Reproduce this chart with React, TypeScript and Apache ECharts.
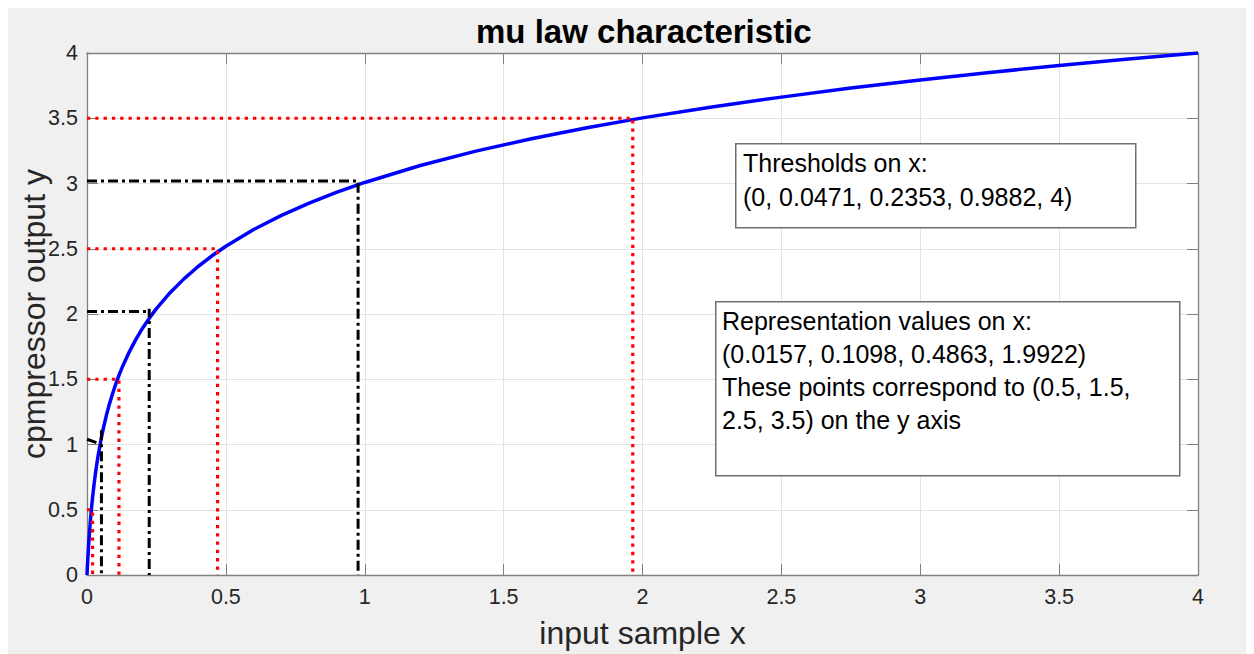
import React, { useEffect, useRef } from "react";
import * as echarts from "echarts";

const curveX = [0, 0.001, 0.002, 0.004, 0.006, 0.008, 0.01, 0.0125, 0.015, 0.0175, 0.02, 0.025, 0.03, 0.035, 0.04, 0.05, 0.06, 0.07, 0.08, 0.09, 0.1, 0.115, 0.13, 0.15, 0.175, 0.2, 0.225, 0.25, 0.3, 0.35, 0.4, 0.45, 0.5, 0.6, 0.7, 0.8, 0.9, 1.0, 1.2, 1.4, 1.6, 1.8, 2.0, 2.25, 2.5, 2.75, 3.0, 3.25, 3.5, 3.75, 4.0];
const curveY = [0, 0.045, 0.087, 0.164, 0.234, 0.297, 0.356, 0.423, 0.484, 0.541, 0.593, 0.688, 0.771, 0.846, 0.914, 1.033, 1.135, 1.225, 1.304, 1.376, 1.441, 1.529, 1.608, 1.7, 1.802, 1.891, 1.97, 2.041, 2.165, 2.271, 2.364, 2.446, 2.519, 2.647, 2.756, 2.85, 2.934, 3.008, 3.138, 3.248, 3.343, 3.427, 3.503, 3.587, 3.662, 3.731, 3.793, 3.851, 3.904, 3.954, 4.0];

// black dash-dot threshold guides: [x, y] pairs
const blackPaths = [
  [[0, 1.04], [0.052, 1.0]],
  [[0.052, 1.11], [0.052, 0]],
  [[0, 2.02], [0.224, 2.02], [0.224, 2.04], [0.224, 0]],
  [[0, 3.02], [0.976, 3.02], [0.976, 0]],
];

// red dotted representation-value guides
const redPaths = [
  [[0, 0.5], [0.02, 0.5], [0.02, 0]],
  [[0, 1.5], [0.115, 1.5], [0.115, 0]],
  [[0, 2.5], [0.47, 2.5], [0.47, 0]],
  [[0, 3.5], [1.965, 3.5], [1.965, 0]],
];

const titleText = "mu law characteristic";
const xName = "input sample x";
const yName = "cpmpressor output y";
const box1Lines = ["Thresholds on x:", "(0, 0.0471, 0.2353, 0.9882, 4)"];
const box2Lines = [
  "Representation values on x:",
  "(0.0157, 0.1098, 0.4863, 1.9922)",
  "These points correspond to (0.5, 1.5,",
  "2.5, 3.5) on the y axis",
];

const FONT = "Liberation Sans, Arial, Helvetica, sans-serif";
const AXIS_COLOR = "#808080";
const LABEL_COLOR = "#262626";

export default function App() {
  const ref = useRef<HTMLDivElement>(null);

  useEffect(() => {
    if (!ref.current) return;
    const chart = echarts.init(ref.current, undefined, { renderer: "svg" });

    const curveData = curveX.map((x, i) => [x, curveY[i]]);

    const series: any[] = [
      {
        type: "line",
        name: "curve",
        data: curveData,
        showSymbol: false,
        smooth: false,
        lineStyle: { color: "#0000ff", width: 3.5, join: "round" },
        silent: true,
        z: 2,
      },
    ];
    blackPaths.forEach((p, i) => {
      series.push({
        type: "line",
        name: "threshold" + i,
        data: p,
        showSymbol: false,
        lineStyle: { color: "#000000", width: 3, type: [10, 4, 3, 4], cap: "butt" },
        silent: true,
        z: 3,
      });
    });
    redPaths.forEach((p, i) => {
      series.push({
        type: "line",
        name: "repr" + i,
        data: p,
        showSymbol: false,
        lineStyle: { color: "#ff0000", width: 3.2, type: [3.3, 5], cap: "butt" },
        silent: true,
        z: 3,
      });
    });

    const mkText = (lines: string[], left: number, top: number, lh: number) =>
      lines.map((t, i) => ({
        type: "text",
        left,
        top: top + i * lh,
        style: { text: t, fill: "#000000", font: `25px ${FONT}` },
        z: 10,
      }));

    const option: any = {
      animation: false,
      backgroundColor: "#f0f0f0",
      title: {
        text: titleText,
        left: 463,
        top: 2,
        textStyle: { fontFamily: FONT, fontSize: 33, fontWeight: "bold", color: "#000000" },
      },
      grid: {
        left: 79,
        top: 45,
        width: 1111,
        height: 522,
        show: true,
        backgroundColor: "#ffffff",
        borderWidth: 0,
        outerBoundsMode: "none",
        containLabel: false,
      },
      xAxis: [
        {
          type: "value",
          min: 0,
          max: 4,
          interval: 0.5,
          name: xName,
          nameLocation: "middle",
          nameGap: 42,
          nameMoveOverlap: false,
          nameTextStyle: { fontFamily: FONT, fontSize: 32, color: LABEL_COLOR },
          axisLine: { show: true, onZero: false, lineStyle: { color: AXIS_COLOR, width: 1.3 } },
          axisTick: { show: true, inside: true, length: 11, lineStyle: { color: AXIS_COLOR } },
          axisLabel: { color: LABEL_COLOR, fontSize: 21.5, fontFamily: FONT, margin: 11 },
          splitLine: { show: true, lineStyle: { color: "#e3e3e3", width: 1 } },
        },
        {
          type: "value",
          position: "top",
          min: 0,
          max: 4,
          interval: 0.5,
          axisLine: { show: true, onZero: false, lineStyle: { color: AXIS_COLOR, width: 1.3 } },
          axisTick: { show: true, inside: true, length: 11, lineStyle: { color: AXIS_COLOR } },
          axisLabel: { show: false },
          splitLine: { show: false },
        },
      ],
      yAxis: [
        {
          type: "value",
          min: 0,
          max: 4,
          interval: 0.5,
          name: yName,
          nameLocation: "middle",
          nameGap: 37,
          nameMoveOverlap: false,
          nameTextStyle: { fontFamily: FONT, fontSize: 32, color: LABEL_COLOR },
          axisLine: { show: true, onZero: false, lineStyle: { color: AXIS_COLOR, width: 1.3 } },
          axisTick: { show: true, inside: true, length: 11, lineStyle: { color: AXIS_COLOR } },
          axisLabel: { color: LABEL_COLOR, fontSize: 21.5, fontFamily: FONT, margin: 9 },
          splitLine: { show: true, lineStyle: { color: "#e3e3e3", width: 1 } },
        },
        {
          type: "value",
          position: "right",
          min: 0,
          max: 4,
          interval: 0.5,
          axisLine: { show: true, onZero: false, lineStyle: { color: AXIS_COLOR, width: 1.3 } },
          axisTick: { show: true, inside: true, length: 11, lineStyle: { color: AXIS_COLOR } },
          axisLabel: { show: false },
          splitLine: { show: false },
        },
      ],
      series,
      graphic: [
        {
          type: "rect",
          left: 727,
          top: 135,
          shape: { width: 400, height: 84 },
          style: { fill: "#ffffff", stroke: "#707070", lineWidth: 1.5 },
          z: 9,
        },
        ...mkText(box1Lines, 735, 142, 34),
        {
          type: "rect",
          left: 707,
          top: 293,
          shape: { width: 464, height: 174 },
          style: { fill: "#ffffff", stroke: "#707070", lineWidth: 1.5 },
          z: 9,
        },
        ...mkText(box2Lines, 714, 300, 33),
      ],
    };

    chart.setOption(option);
    return () => chart.dispose();
  }, []);

  return (
    <div
      ref={ref}
      style={{ width: 1246, height: 646, background: "#f0f0f0" }}
    />
  );
}
